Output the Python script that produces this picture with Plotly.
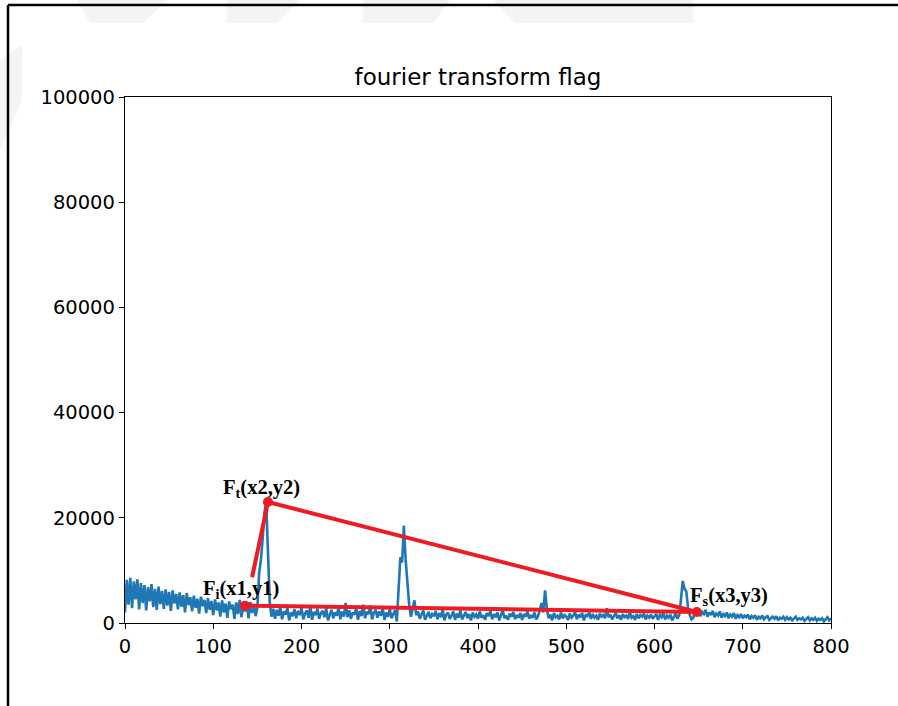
import plotly.graph_objects as go

# ---------------- data ----------------
freq = list(range(0, 801, 2))
magnitude = [
    # 0-48
    2000, 8200, 3500, 8600, 2800, 7900, 4500, 8300, 2600, 7600, 3800, 7200, 2400,
    6800, 4100, 7400, 3000, 6500, 2500, 6900, 3600, 6100, 2700, 6400, 3300,
    # 50-98
    5900, 2300, 6200, 3700, 5500, 2600, 5800, 3100, 5300, 2000, 5700, 3400, 4900,
    2200, 5200, 2900, 4600, 1800, 5000, 3200, 4400, 1900, 4700, 2500, 4200,
    # 100-148
    1500, 4500, 2400, 3900, 1200, 4300, 2000, 3700, 1000, 4100, 2600, 3500, 800,
    3900, 1700, 4400, 1100, 3300, 2200, 3800, 900, 4000, 1900, 3600, 1300,
    # 150-198
    3000, 9500, 12000, 16000, 21000, 23000, 15000, 4000, 1200, 2700, 800, 2500, 1400,
    3100, 700, 2200, 1600, 2800, 500, 2000, 1300, 2600, 900, 2300, 1500,
    # 200-248
    2900, 700, 1800, 2400, 1000, 3200, 600, 2100, 1500, 2700, 800, 1900, 2300,
    1100, 2800, 500, 1700, 2500, 900, 2000, 1400, 3000, 700, 2200, 1200,
    # 250-298
    3800, 1100, 2400, 800, 2000, 1600, 2900, 600, 2300, 1300, 3500, 900, 2100,
    1700, 3300, 700, 1900, 2500, 1000, 2200, 1400, 2800, 600, 2000, 1200,
    # 300-348
    2600, 900, 1700, 2400, 300, 8000, 12500, 11500, 18500, 12000, 7500, 3500, 1200,
    2800, 4300, 1500, 2200, 800, 1800, 2400, 600, 1500, 2100, 900, 1700,
    # 350-398
    1300, 2300, 700, 1900, 1100, 2500, 500, 1600, 2000, 800, 1400, 2200, 600,
    1800, 1000, 2400, 700, 1500, 2100, 900, 1700, 500, 2000, 1200, 1600,
    # 400-448
    800, 2200, 1000, 1500, 600, 1900, 1300, 2300, 700, 1700, 1100, 2000, 500,
    1600, 2400, 900, 1400, 600, 1800, 1200, 2100, 700, 1500, 1000, 1900,
    # 450-498
    600, 1700, 1200, 2200, 800, 1500, 1000, 2000, 700, 1300, 2500, 3800, 2000,
    6200, 2800, 900, 1600, 500, 1900, 1100, 1400, 700, 2000, 900, 1500,
    # 500-548
    1200, 600, 1800, 1000, 1400, 2100, 700, 1600, 1100, 1900, 500, 1500, 1300,
    2000, 800, 1700, 1000, 1400, 600, 1800, 1200, 1500, 900, 2800, 1100,
    # 550-598
    1600, 700, 1300, 1900, 900, 1500, 600, 1700, 1100, 1400, 800, 2000, 1000,
    1300, 600, 1700, 900, 1500, 1200, 1800, 700, 1400, 1000, 1600, 800,
    # 600-648
    1300, 1700, 600, 1500, 1100, 1900, 700, 1400, 1000, 1600, 500, 1200, 1800,
    800, 1500, 4500, 8000, 6500, 6000, 3000, 1500, 700, 1000, 2300, 1600,
    # 650-698
    2400, 1300, 2100, 1700, 2500, 1200, 2000, 1500, 2300, 1100, 1800, 1400, 2200,
    1000, 1700, 1300, 2000, 900, 1600, 1200, 1900, 800, 1500, 1100, 1700,
    # 700-748
    900, 1400, 1100, 1600, 700, 1300, 1000, 1500, 600, 1200, 900, 1400, 700,
    1100, 1300, 600, 1000, 1200, 800, 1300, 500, 1000, 800, 1200, 600,
    # 750-798
    1100, 700, 1000, 500, 900, 1200, 600, 900, 700, 1000, 400, 800, 1100,
    500, 900, 600, 1000, 400, 800, 600, 900, 300, 700, 1100, 500,
    # 800
    900,
]
assert len(freq) == len(magnitude)

# triangle points (Fi, Ft, Fs)
pt_names = ["i", "t", "s"]
pt_x = [136, 162, 648]
pt_y = [3300, 23000, 2100]
pt_labels = ["(x1,y1)", "(x2,y2)", "(x3,y3)"]
label_x = [131, 155, 684]
label_y = [6300, 25600, 5000]
# end of the short side drawn from Ft toward Fi
side_end_x = 144
side_end_y = 8700

title_text = "fourier transform flag"
x_ticks = [0, 100, 200, 300, 400, 500, 600, 700, 800]
y_ticks = [0, 20000, 40000, 60000, 80000, 100000]

RED = "#ed1c24"
BLUE = "#1f77b4"

fig = go.Figure()

fig.add_trace(go.Scatter(x=freq, y=magnitude, mode="lines",
                         line=dict(color=BLUE, width=2.6), hoverinfo="skip",
                         showlegend=False))

# red triangle sides
fig.add_trace(go.Scatter(x=[pt_x[1], pt_x[2]], y=[pt_y[1], pt_y[2]], mode="lines",
                         line=dict(color=RED, width=4), showlegend=False))
fig.add_trace(go.Scatter(x=[pt_x[0], pt_x[2]], y=[pt_y[0], pt_y[2]], mode="lines",
                         line=dict(color=RED, width=4), showlegend=False))
fig.add_trace(go.Scatter(x=[pt_x[1], side_end_x], y=[pt_y[1], side_end_y], mode="lines",
                         line=dict(color=RED, width=4), showlegend=False))
fig.add_trace(go.Scatter(x=pt_x, y=pt_y, mode="markers",
                         marker=dict(color=RED, size=10), showlegend=False))

for n, lx, ly, lab in zip(pt_names, label_x, label_y, pt_labels):
    fig.add_annotation(x=lx, y=ly, xref="x", yref="y", showarrow=False,
                       text=f"<b>F<sub>{n}</sub>{lab}</b>",
                       font=dict(family="Liberation Serif", size=20.5, color="black"))

# page frame and faint watermark (pixel -> paper helpers)
L, T, W, H = 125, 97, 706, 526


def px(xp):
    return (xp - L) / W


def py(yp):
    return (T + H - yp) / H


shapes = []
wm = [
    [(77, 0), (167, 0), (143, 23), (90, 23)],
    [(227, 0), (300, 0), (277, 23), (227, 23)],
    [(363, 0), (450, 0), (433, 23), (363, 23)],
    [(493, 0), (693, 0), (693, 23), (515, 23)],
    [(0, 60), (22, 45), (22, 100), (0, 150)],
]
for poly in wm:
    path = "M " + " L ".join(f"{px(a):.4f},{py(b):.4f}" for a, b in poly) + " Z"
    shapes.append(dict(type="path", xref="paper", yref="paper", path=path,
                       fillcolor="#f4f4f4", line=dict(width=0), layer="below"))
shapes.append(dict(type="line", xref="paper", yref="paper", x0=px(8), x1=px(898),
                   y0=py(5), y1=py(5), line=dict(color="black", width=2.5)))
shapes.append(dict(type="line", xref="paper", yref="paper", x0=px(8), x1=px(8),
                   y0=py(5), y1=py(706), line=dict(color="black", width=2.5)))

axis_common = dict(showline=True, mirror=True, linecolor="black", linewidth=1.3,
                   ticks="outside", ticklen=5, tickwidth=1.3, tickcolor="black",
                   showgrid=False, zeroline=False,
                   tickfont=dict(family="DejaVu Sans", size=19.5, color="black"))

fig.update_layout(
    width=898, height=706,
    margin=dict(l=L, r=898 - L - W, t=T, b=706 - T - H),
    paper_bgcolor="white", plot_bgcolor="white",
    title=dict(text=title_text, x=0.5, xref="paper", xanchor="center",
               y=1 - 77 / 706, yref="container", yanchor="middle",
               font=dict(family="DejaVu Sans", size=23, color="black")),
    xaxis=dict(range=[0, 800], tickvals=x_ticks, **axis_common),
    yaxis=dict(range=[0, 100000], tickvals=y_ticks, tickformat="d", **axis_common),
    shapes=shapes,
    showlegend=False,
)

fig.write_html("out.html")
